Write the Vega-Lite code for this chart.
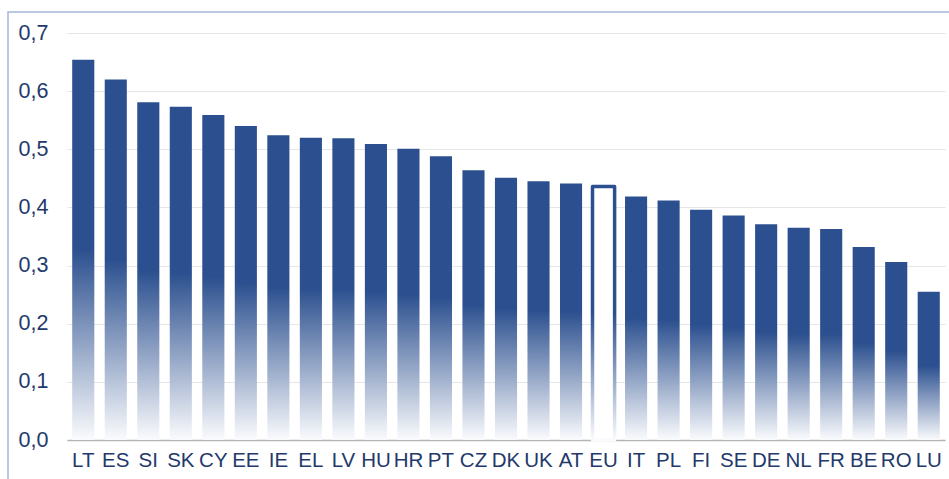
{
  "$schema": "https://vega.github.io/schema/vega-lite/v6.json",
  "width": 945,
  "height": 471,
  "autosize": "none",
  "padding": {"left": 8, "top": 12, "right": -4, "bottom": -4},
  "background": "#ffffff",
  "config": {
    "view": {"stroke": "#a6b6d8", "strokeWidth": 1.5},
    "font": "Liberation Sans Narrow, Arial Narrow, Liberation Sans, sans-serif"
  },
  "data": {
    "values": [
      {"country": "LT", "value": 0.654},
      {"country": "ES", "value": 0.620},
      {"country": "SI", "value": 0.581},
      {"country": "SK", "value": 0.573},
      {"country": "CY", "value": 0.559},
      {"country": "EE", "value": 0.540},
      {"country": "IE", "value": 0.524},
      {"country": "EL", "value": 0.520},
      {"country": "LV", "value": 0.519},
      {"country": "HU", "value": 0.509},
      {"country": "HR", "value": 0.501},
      {"country": "PT", "value": 0.488},
      {"country": "CZ", "value": 0.464},
      {"country": "DK", "value": 0.451},
      {"country": "UK", "value": 0.445},
      {"country": "AT", "value": 0.441},
      {"country": "EU", "value": 0.436},
      {"country": "IT", "value": 0.419},
      {"country": "PL", "value": 0.412},
      {"country": "FI", "value": 0.396},
      {"country": "SE", "value": 0.386},
      {"country": "DE", "value": 0.371},
      {"country": "NL", "value": 0.365},
      {"country": "FR", "value": 0.363},
      {"country": "BE", "value": 0.332},
      {"country": "RO", "value": 0.306},
      {"country": "LU", "value": 0.255}
    ]
  },
  "encoding": {
    "x": {
      "field": "country",
      "type": "nominal",
      "sort": null,
      "title": null,
      "scale": {
        "domain": ["LT", "ES", "SI", "SK", "CY", "EE", "IE", "EL", "LV", "HU", "HR", "PT", "CZ", "DK", "UK", "AT", "EU", "IT", "PL", "FI", "SE", "DE", "NL", "FR", "BE", "RO", "LU"],
        "range": [59, 937],
        "paddingInner": 0.32,
        "paddingOuter": 0.16
      },
      "axis": {
        "orient": "bottom",
        "offset": -43,
        "labelAngle": 0,
        "ticks": false,
        "labelPadding": 10,
        "labelFontSize": 20.5,
        "labelColor": "#23396b",
        "domainColor": "#b4b4b4",
        "domainWidth": 1.5,
        "grid": false
      }
    },
    "y": {
      "field": "value",
      "type": "quantitative",
      "title": null,
      "scale": {"domain": [0, 0.7], "range": [428, 21], "nice": false, "zero": true},
      "axis": {
        "orient": "left",
        "offset": -59,
        "values": [0, 0.1, 0.2, 0.3, 0.4, 0.5, 0.6, 0.7],
        "labelExpr": "replace(format(datum.value, '.1f'), '.', ',')",
        "domain": false,
        "ticks": false,
        "labelPadding": 19,
        "labelFontSize": 21.5,
        "labelColor": "#23396b",
        "grid": true,
        "gridColor": "#e6e6e6",
        "gridWidth": 1.2
      }
    }
  },
  "layer": [
    {
      "transform": [{"filter": "datum.country !== 'EU'"}],
      "mark": {
        "type": "bar",
        "color": {
          "gradient": "linear",
          "x1": 0, "y1": 1, "x2": 0, "y2": 0,
          "stops": [
            {"offset": 0, "color": "#fafbfd"},
            {"offset": 0.5, "color": "#2c508f"},
            {"offset": 1, "color": "#2c508f"}
          ]
        }
      }
    },
    {
      "transform": [{"filter": "datum.country === 'EU'"}],
      "mark": {
        "type": "bar",
        "fill": "#ffffff",
        "strokeWidth": 3.5,
        "strokeJoin": "round",
        "stroke": {
          "gradient": "linear",
          "x1": 0, "y1": 1, "x2": 0, "y2": 0,
          "stops": [
            {"offset": 0, "color": "#fafbfd"},
            {"offset": 0.5, "color": "#2c508f"},
            {"offset": 1, "color": "#2c508f"}
          ]
        }
      }
    }
  ]
}
